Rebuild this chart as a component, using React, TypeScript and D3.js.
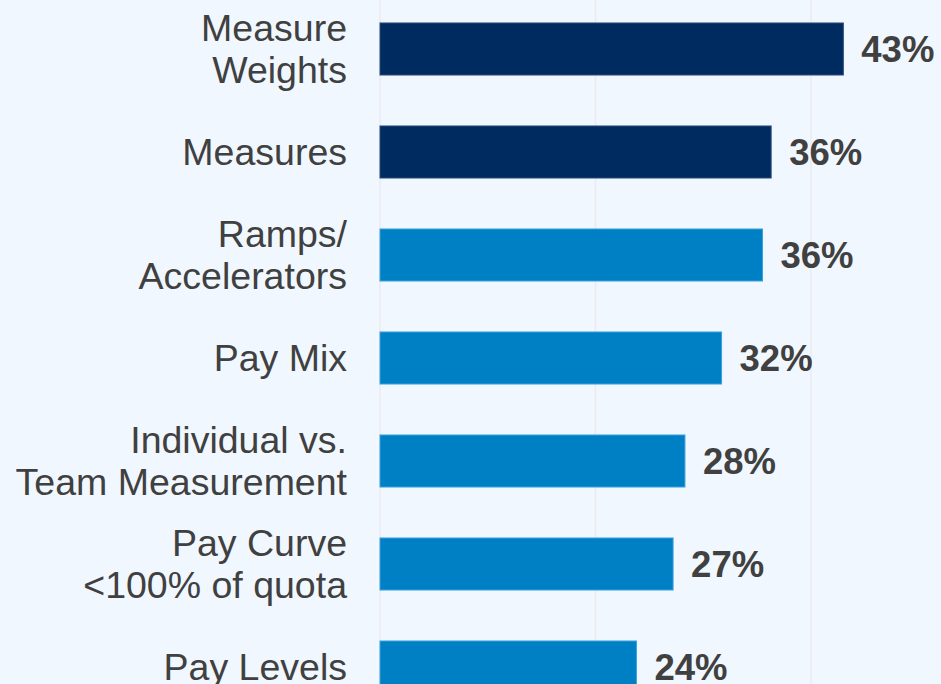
import React from "react";
import * as d3 from "d3";

const categories: string[][] = [
  ["Measure", "Weights"],
  ["Measures"],
  ["Ramps/", "Accelerators"],
  ["Pay Mix"],
  ["Individual vs.", "Team Measurement"],
  ["Pay Curve", "<100% of quota"],
  ["Pay Levels"],
];
const values: number[] = [43.0, 36.3, 35.5, 31.7, 28.3, 27.2, 23.8];
const valueLabels: string[] = ["43%", "36%", "36%", "32%", "28%", "27%", "24%"];
const highlight: boolean[] = [true, true, false, false, false, false, false];
const gridTicks: number[] = [0, 20, 40, 60];

const W = 941;
const H = 684;

export default function App() {
  const keys = categories.map((c) => c.join(" "));
  const x = d3.scaleLinear().domain([0, 20]).range([380, 595.5]);
  const y = d3
    .scaleBand<string>()
    .domain(keys)
    .range([-28, 744])
    .padding(0.495);
  const fontSize = 37.5;
  const lineH = 42;
  return (
    <div style={{ position: "absolute", left: 0, top: 0, width: W, height: H, overflow: "hidden" }}>
      <svg width={W} height={H} style={{ display: "block" }}>
        <rect x={0} y={0} width={W} height={H} fill="#f0f7fe" />
        {gridTicks.map((t) => (
          <line
            key={t}
            x1={x(t)}
            x2={x(t)}
            y1={0}
            y2={H}
            stroke="#eeeaef"
            strokeWidth={1.5}
          />
        ))}
        {keys.map((k, i) => {
          const y0 = y(k)!;
          const bw = y.bandwidth();
          const cy = y0 + bw / 2;
          const lines = categories[i];
          const fill = highlight[i] ? "#002b60" : "#0080c4";
          const stroke = highlight[i] ? "#2a4a78" : "#3aa0dc";
          return (
            <g key={k}>
              <rect
                x={x(0)}
                y={y0}
                width={x(values[i]) - x(0)}
                height={bw}
                fill={fill}
                stroke={stroke}
                strokeWidth={1}
              />
              <text
                x={347}
                y={cy}
                textAnchor="end"
                fontFamily="'Liberation Sans', Arial, sans-serif"
                fontSize={fontSize}
                fill="#404040"
              >
                {lines.map((l, j) => (
                  <tspan
                    key={j}
                    x={347}
                    y={cy + (j - (lines.length - 1) / 2) * lineH}
                    dy="0.35em"
                  >
                    {l}
                  </tspan>
                ))}
              </text>
              <text
                x={x(values[i]) + 18}
                y={cy}
                dy="0.35em"
                fontFamily="'Liberation Sans', Arial, sans-serif"
                fontWeight="bold"
                fontSize={36.5}
                fill="#404040"
              >
                {valueLabels[i]}
              </text>
            </g>
          );
        })}
      </svg>
    </div>
  );
}
